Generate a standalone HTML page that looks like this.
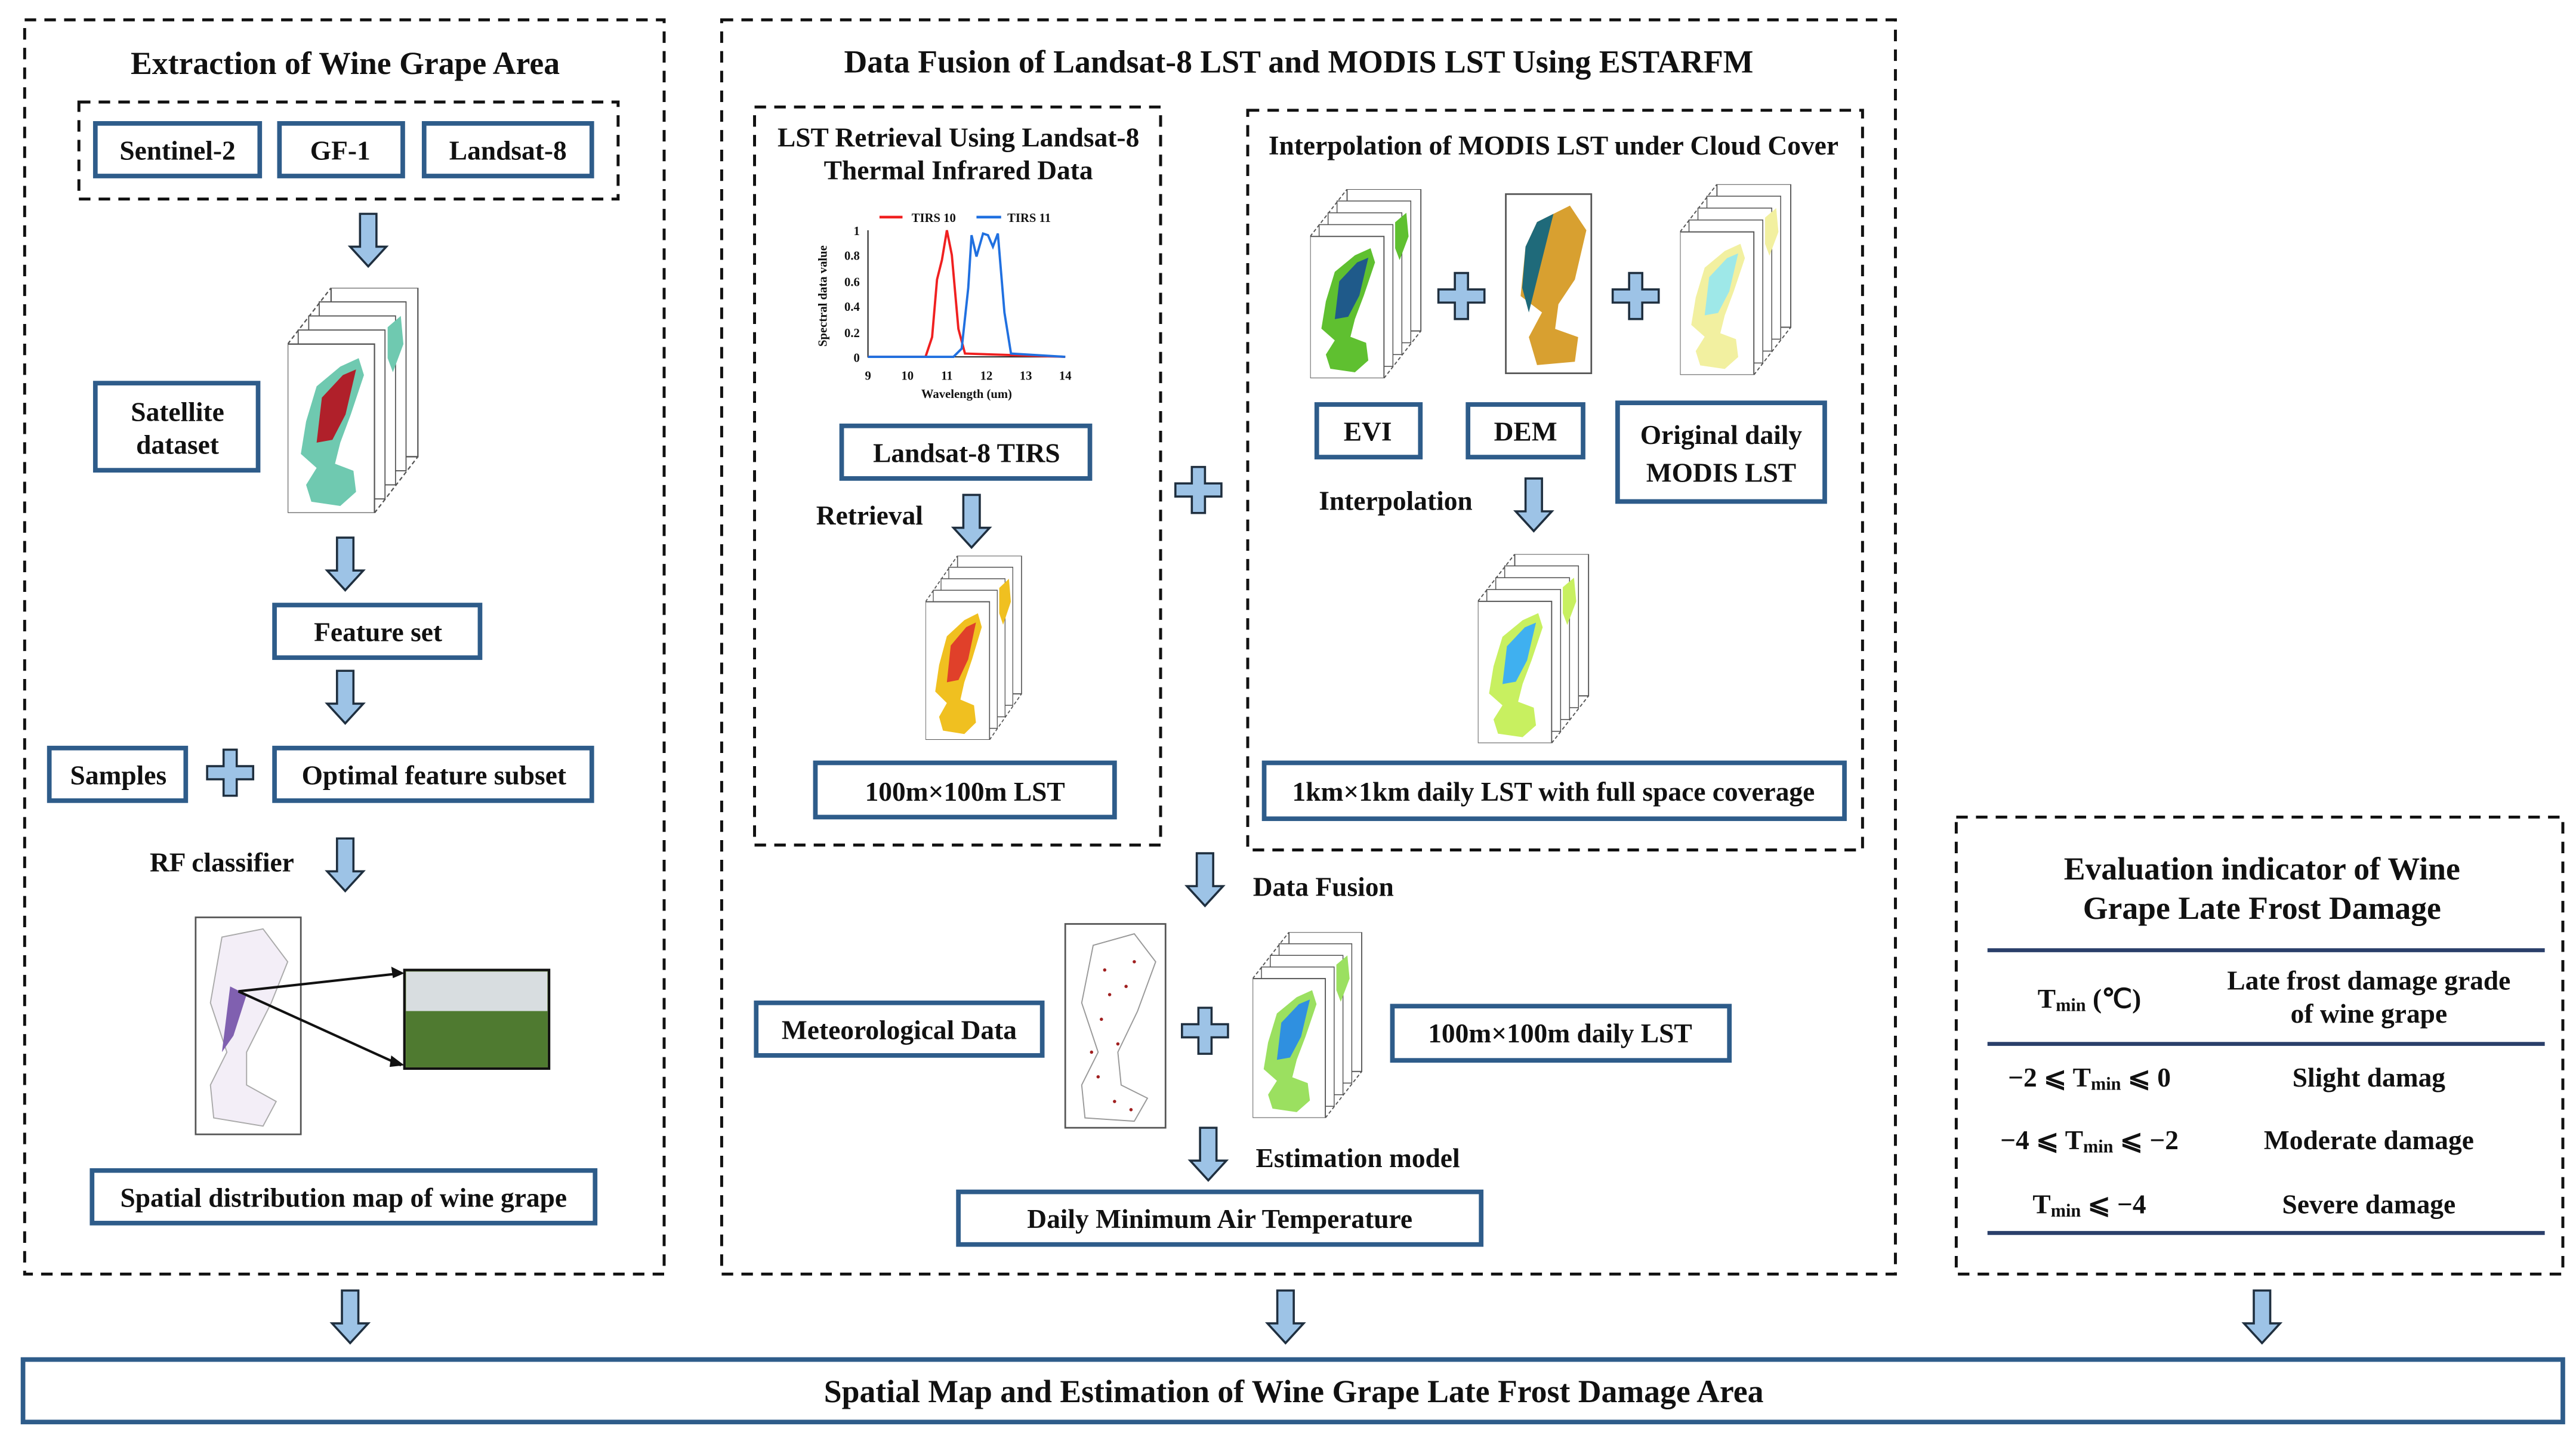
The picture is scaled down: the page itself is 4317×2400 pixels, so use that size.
<!DOCTYPE html>
<html><head><meta charset="utf-8"><style>
html,body{margin:0;padding:0;background:#fff;}
svg{display:block;}
svg text, svg tspan{font-family:"Liberation Serif","Times New Roman",serif !important;font-weight:bold;fill:#111;}
</style></head><body>
<svg width="4317" height="2400" viewBox="0 0 1567 871" xmlns="http://www.w3.org/2000/svg" font-family="Liberation Serif, serif" style="font-family:'Liberation Serif',serif">
<defs>
<symbol id="stack" viewBox="0 0 100 160" preserveAspectRatio="none">
 <rect x="33" y="0" width="66" height="120" fill="#fff" stroke="#555" stroke-width="1"/>
 <line x1="0" y1="40" x2="33" y2="0" stroke="#555" stroke-dasharray="3,2"/>
 <line x1="66" y1="160" x2="99" y2="120" stroke="#555" stroke-dasharray="3,2"/>
 <rect x="24" y="10" width="66" height="120" fill="#fff" stroke="#555" stroke-width="0.8"/>
 <rect x="16" y="20" width="66" height="120" fill="#fff" stroke="#555" stroke-width="0.8"/>
 <rect x="8" y="30" width="66" height="120" fill="#fff" stroke="#555" stroke-width="0.8"/>
 <rect x="0" y="40" width="66" height="120" fill="#fff" stroke="#555" stroke-width="1"/>
 <path d="M22,70 L40,56 L54,50 L58,62 L48,90 L40,110 L36,125 L50,130 L52,145 L40,155 L18,152 L14,140 L22,128 L10,118 L14,95 Z" style="fill:var(--c1)"/>
 <path d="M26,78 L42,62 L52,58 L44,90 L34,108 L22,110 Z" style="fill:var(--c2)"/>
 <path d="M76,28 L86,20 L88,40 L80,60 L76,50 Z" style="fill:var(--c1)"/>
</symbol>
<g id="arr"><path d="M-5,0 H5 V20 H11 L0,32 L-11,20 H-5 Z" fill="#9dc3e6" stroke="#1f2f3f" stroke-width="1.3"/></g>
<g id="plus"><path d="M-4,-14 H4 V-4 H14 V4 H4 V14 H-4 V4 H-14 V-4 H-4 Z" fill="#9dc3e6" stroke="#1f2f3f" stroke-width="1.3"/></g>
</defs>
<g fill="none" stroke="#111" stroke-width="1.8" stroke-dasharray="7,5">
 <rect x="15" y="12" width="389" height="763"/>
 <rect x="48" y="62" width="328" height="59"/>
 <rect x="439" y="12" width="714" height="763"/>
 <rect x="459" y="65" width="247" height="449"/>
 <rect x="759" y="67" width="374" height="450"/>
 <rect x="1190" y="497" width="369" height="278"/>
</g>
<g fill="#fff" stroke="#2e5c8a" stroke-width="2.8">
 <rect x="58" y="75" width="100" height="32"/>
 <rect x="170" y="75" width="75" height="32"/>
 <rect x="258" y="75" width="102" height="32"/>
 <rect x="58" y="233" width="99" height="53"/>
 <rect x="167" y="368" width="125" height="32"/>
 <rect x="30" y="455" width="83" height="32"/>
 <rect x="167" y="455" width="193" height="32"/>
 <rect x="56" y="712" width="306" height="32"/>
 <rect x="512" y="259" width="151" height="32"/>
 <rect x="496" y="464" width="182" height="33"/>
 <rect x="801" y="246" width="63" height="32"/>
 <rect x="893" y="246" width="70" height="32"/>
 <rect x="984" y="245" width="126" height="60"/>
 <rect x="769" y="464" width="353" height="34"/>
 <rect x="460" y="610" width="174" height="32"/>
 <rect x="847" y="612" width="205" height="33"/>
 <rect x="583" y="725" width="318" height="32"/>
 <rect x="14" y="827" width="1545" height="38"/>
</g>
<g font-size="19.5" text-anchor="middle">
 <text x="210" y="45">Extraction of Wine Grape Area</text>
 <text x="790" y="44">Data Fusion of Landsat-8 LST and MODIS LST Using ESTARFM</text>
 <text x="1376" y="535">Evaluation indicator of Wine</text>
 <text x="1376" y="559">Grape Late Frost Damage</text>
 <text x="787" y="853">Spatial Map and Estimation of Wine Grape Late Frost Damage Area</text>
</g>
<g font-size="16.5" text-anchor="middle">
 <text x="108" y="97">Sentinel-2</text>
 <text x="207" y="97">GF-1</text>
 <text x="309" y="97">Landsat-8</text>
 <text x="108" y="256">Satellite</text>
 <text x="108" y="276">dataset</text>
 <text x="230" y="390">Feature set</text>
 <text x="72" y="477">Samples</text>
 <text x="264" y="477">Optimal feature subset</text>
 <text x="135" y="530">RF classifier</text>
 <text x="209" y="734">Spatial distribution  map of wine grape</text>
 <text x="583" y="89">LST Retrieval Using Landsat-8</text>
 <text x="583" y="109">Thermal Infrared  Data</text>
 <text x="588" y="281">Landsat-8  TIRS</text>
 <text x="529" y="319">Retrieval</text>
 <text x="587" y="487">100m×100m LST</text>
 <text x="945" y="94">Interpolation  of MODIS LST under Cloud Cover</text>
 <text x="832" y="268">EVI</text>
 <text x="928" y="268">DEM</text>
 <text x="1047" y="270">Original daily</text>
 <text x="1047" y="293">MODIS LST</text>
 <text x="849" y="310">Interpolation</text>
 <text x="945" y="487">1km×1km daily LST with full space coverage</text>
 <text x="805" y="545">Data Fusion</text>
 <text x="547" y="632">Meteorological Data</text>
 <text x="949" y="634">100m×100m daily LST</text>
 <text x="826" y="710">Estimation model</text>
 <text x="742" y="747">Daily Minimum  Air Temperature</text>
 <text x="1271" y="613">T<tspan font-size="11" dy="2">min</tspan><tspan dy="-2"> (℃)</tspan></text>
 <text x="1441" y="602">Late frost damage grade</text>
 <text x="1441" y="622">of wine grape</text>
 <text x="1271" y="661">−2 ⩽ T<tspan font-size="11" dy="2">min</tspan><tspan dy="-2"> ⩽ 0</tspan></text>
 <text x="1441" y="661">Slight damag</text>
 <text x="1271" y="699">−4 ⩽ T<tspan font-size="11" dy="2">min</tspan><tspan dy="-2"> ⩽ −2</tspan></text>
 <text x="1441" y="699">Moderate damage</text>
 <text x="1271" y="738">T<tspan font-size="11" dy="2">min</tspan><tspan dy="-2"> ⩽ −4</tspan></text>
 <text x="1441" y="738">Severe damage</text>
</g>
<g stroke="#2a3f6a" stroke-width="2.4">
 <line x1="1209" y1="578" x2="1548" y2="578"/>
 <line x1="1209" y1="635" x2="1548" y2="635"/>
 <line x1="1209" y1="750" x2="1548" y2="750"/>
</g>
<use href="#arr" transform="translate(224,130)"/>
<use href="#arr" transform="translate(210,327)"/>
<use href="#arr" transform="translate(210,408)"/>
<use href="#arr" transform="translate(210,510)"/>
<use href="#arr" transform="translate(591,301)"/>
<use href="#arr" transform="translate(933,291)"/>
<use href="#arr" transform="translate(733,519)"/>
<use href="#arr" transform="translate(735,686)"/>
<use href="#arr" transform="translate(213,785)"/>
<use href="#arr" transform="translate(782,785)"/>
<use href="#arr" transform="translate(1376,785)"/>
<use href="#plus" transform="translate(140,470)"/>
<use href="#plus" transform="translate(729,298)"/>
<use href="#plus" transform="translate(889,180)"/>
<use href="#plus" transform="translate(995,180)"/>
<use href="#plus" transform="translate(733,627)"/>
<use href="#stack" x="175" y="175" width="80" height="137" style="--c1:#6fc9b0;--c2:#b0202a"/>
<use href="#stack" x="563" y="338" width="59" height="112" style="--c1:#f0c020;--c2:#e0402a"/>
<use href="#stack" x="797" y="115" width="68" height="115" style="--c1:#5fc030;--c2:#1f5a8a"/>
<use href="#stack" x="1022" y="112" width="68" height="116" style="--c1:#f2f0a0;--c2:#9ee8e8"/>
<use href="#stack" x="899" y="337" width="68" height="115" style="--c1:#c8f060;--c2:#3fb0f0"/>
<use href="#stack" x="762" y="567" width="67" height="113" style="--c1:#9be060;--c2:#2f90e0"/>
<rect x="916" y="118" width="52" height="109" fill="#fff" stroke="#555"/>
<path d="M935,135 L955,125 L965,140 L958,170 L948,185 L946,200 L960,205 L958,220 L935,222 L930,205 L938,190 L925,180 L928,150 Z" fill="#d8a030"/>
<path d="M935,135 L945,130 L935,170 L930,190 L926,175 L928,150 Z" fill="#1f6a7a"/>
<rect x="119" y="558" width="64" height="132" fill="#fff" stroke="#555"/>
<path d="M135,570 L160,565 L175,585 L165,610 L150,640 L150,660 L168,670 L160,685 L130,680 L128,660 L138,640 L128,610 Z" fill="#f3eef7" stroke="#aaa" stroke-width="0.7"/>
<path d="M140,600 L150,605 L142,630 L135,640 Z" fill="#8060b0"/>
<rect x="246" y="590" width="88" height="60" fill="#6a8a40" stroke="#111" stroke-width="1.5"/>
<rect x="247" y="591" width="86" height="24" fill="#d8dde0"/>
<rect x="247" y="615" width="86" height="34" fill="#4f7a30"/>
<g stroke="#111" stroke-width="1.5"><line x1="145" y1="603" x2="244" y2="592"/><line x1="145" y1="603" x2="244" y2="648"/></g>
<path d="M246,592 l-8,-4 l1,7 Z M246,648 l-8,-6 l-1,7 Z" fill="#111"/>
<rect x="648" y="562" width="61" height="124" fill="#fff" stroke="#555"/>
<path d="M665,575 L690,568 L703,585 L692,615 L680,640 L682,660 L698,668 L690,682 L660,680 L658,660 L668,640 L658,610 Z" fill="#fff" stroke="#999" stroke-width="0.7"/>
<g fill="#a02020"><circle cx="672" cy="590" r="1"/><circle cx="685" cy="600" r="1"/><circle cx="670" cy="620" r="1"/><circle cx="680" cy="635" r="1"/><circle cx="668" cy="655" r="1"/><circle cx="678" cy="670" r="1"/><circle cx="690" cy="585" r="1"/><circle cx="675" cy="605" r="1"/><circle cx="664" cy="640" r="1"/><circle cx="688" cy="675" r="1"/></g>
<g stroke="#333" stroke-width="0.8" fill="none">
 <polyline points="528,140 528,217 648,217"/>
</g>
<g font-size="7.5" text-anchor="end">
 <text x="523" y="143">1</text><text x="523" y="158">0.8</text><text x="523" y="174">0.6</text><text x="523" y="189">0.4</text><text x="523" y="205">0.2</text><text x="523" y="220">0</text>
</g>
<g font-size="7.5" text-anchor="middle">
 <text x="528" y="231">9</text><text x="552" y="231">10</text><text x="576" y="231">11</text><text x="600" y="231">12</text><text x="624" y="231">13</text><text x="648" y="231">14</text>
 <text x="588" y="242">Wavelength (um)</text>
 <text x="568" y="135">TIRS 10</text><text x="626" y="135">TIRS 11</text>
 <text transform="translate(503,180) rotate(-90)">Spectral data value</text>
</g>
<line x1="535" y1="132" x2="549" y2="132" stroke="#f02020" stroke-width="1.6"/>
<line x1="594" y1="132" x2="609" y2="132" stroke="#2070e0" stroke-width="1.6"/>
<path d="M528,217 L563,217 L567,205 L570,170 L573,158 L576,140 L579,155 L583,200 L587,215 L648,217" fill="none" stroke="#f02020" stroke-width="1.4"/>
<path d="M528,217 L580,217 L585,212 L589,175 L591,143 L594,156 L598,142 L601,143 L604,150 L607,142 L611,190 L615,215 L648,217" fill="none" stroke="#2070e0" stroke-width="1.4"/>
</svg>
</body></html>
